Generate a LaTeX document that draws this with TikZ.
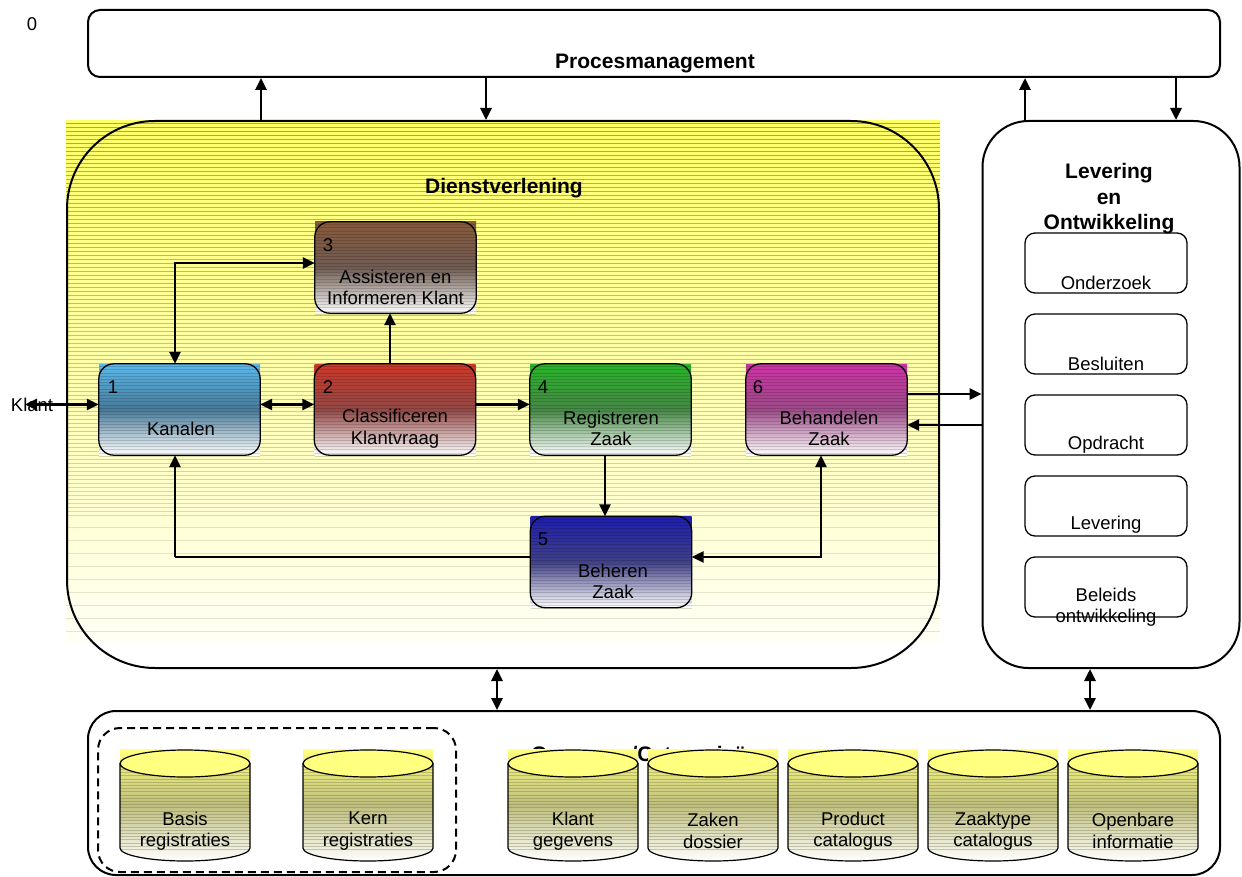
\documentclass[tikz,border=0pt]{standalone}
\usepackage{fontspec}
\setmainfont{Liberation Sans}
\usetikzlibrary{arrows.meta}

% colours
\definecolor{dvtop}{RGB}{255,255,102}
\definecolor{dvbot}{RGB}{255,255,246}
\definecolor{stripecol}{RGB}{110,110,70}
\definecolor{cyltop}{RGB}{255,255,128}
\definecolor{cylmid}{RGB}{190,190,125}
\definecolor{kanTop}{RGB}{90,185,235}   \definecolor{kanMid}{RGB}{72,122,152}
\definecolor{claTop}{RGB}{205,55,40}    \definecolor{claMid}{RGB}{145,72,70}
\definecolor{assTop}{RGB}{135,88,58}    \definecolor{assMid}{RGB}{110,92,82}
\definecolor{regTop}{RGB}{40,180,40}    \definecolor{regMid}{RGB}{70,135,70}
\definecolor{behTop}{RGB}{205,50,165}   \definecolor{behMid}{RGB}{155,75,135}
\definecolor{bhrTop}{RGB}{30,30,175}    \definecolor{bhrMid}{RGB}{65,65,135}

\tikzset{
  >={Triangle[length=12pt,width=11pt]},
  conn/.style={line width=2.7pt,->},
  conn2/.style={line width=2.7pt,<->},
  title/.style={font=\fontsize{21}{25.5}\selectfont\bfseries,align=center,inner sep=0pt},
  lbl/.style={font=\fontsize{18.5}{21.5}\selectfont,align=center,inner sep=0pt},
  pbox/.style={rectangle,minimum width=161pt,minimum height=91pt,inner sep=0pt},
  boxline/.style={draw=black,line width=1.3pt,rounded corners=15pt},
  subbox/.style={draw=black,line width=1.3pt,rounded corners=10pt,minimum width=162pt,minimum height=60pt,inner sep=0pt},
  frame/.style={draw=black,line width=2pt,inner sep=0pt},
  cylline/.style={draw=black,line width=1.2pt},
  boxstripe/.style={draw=black,opacity=0.15,line width=0.6pt},
  cylstripe/.style={draw=stripecol,opacity=0.35,line width=0.6pt},
}

% horizontal stripes: x1, y1, x2, count, step, style
\newcommand\hstripes[6]{%
  \foreach \k in {0,...,#4}{\draw[#6] (#1,{#2+\k*#5}) -- (#3,{#2+\k*#5});}}

% process step: name, cx, cy, top colour, middle colour
\newcommand\procbox[5]{%
  \node[pbox,top color=#4,bottom color=white,middle color=#5] (#1) at (#2,#3) {};
  \hstripes{#2-80.5}{#3-43}{#2+80.5}{28}{3.2}{boxstripe}
  \draw[boxline] (#1.north west) rectangle (#1.south east);}

% data store cylinder: name, cx, first line, second line
\newcommand\datastore[4]{%
  \shade[top color=cyltop,bottom color=white,middle color=cylmid]
    (#2-65,749) -- (#2+65,749) -- (#2+65,848)
    arc[start angle=0,end angle=180,x radius=65,y radius=13] -- cycle;
  \hstripes{#2-65}{766}{#2+65}{26}{3.2}{cylstripe}
  \draw[cylline] (#2-65,763.5) -- (#2-65,848)
    arc[start angle=180,end angle=0,x radius=65,y radius=13] -- (#2+65,763.5);
  \draw[cylline,fill=cyltop] (#2,763.5) ellipse[x radius=65,y radius=13.5];
  \node[lbl] (#1) at (#2,831) {#3\\#4};}

\begin{document}
\begin{tikzpicture}[x=1pt,y=-1pt]
\useasboundingbox (0,0) rectangle (1242,877);

% ---------- process management ----------
\node[lbl] (num0) at (32,24) {0};
\node[frame,rounded corners=12pt,minimum width=1132pt,minimum height=67pt] (pm) at (654,43.5) {};
\node[title] (pmtitle) at (655,64) {Procesmanagement};

% ---------- service delivery area ----------
\shade[top color=dvtop,bottom color=dvbot] (66,121) rectangle (940,640);
\foreach \k in {0,...,98}{%
  \pgfmathsetmacro\op{0.6-0.35*\k/98}
  \draw[stripecol,opacity=\op,line width=0.6pt] (66,{123+\k*4}) -- (940,{123+\k*4});}
\foreach \k in {0,...,8}{%
  \draw[stripecol,opacity=0.18,line width=0.6pt] (66,{527+\k*13}) -- (940,{527+\k*13});}
\node[frame,rounded corners=88pt,minimum width=872pt,minimum height=547pt] (dv) at (503,394.5) {};
\node[title] (dvtitle) at (504,188) {Dienstverlening};

\procbox{b3}{395.5}{267.5}{assTop}{assMid}
\procbox{b1}{179.5}{409.5}{kanTop}{kanMid}
\procbox{b2}{395}{409.5}{claTop}{claMid}
\procbox{b4}{610.5}{409.5}{regTop}{regMid}
\procbox{b6}{826.5}{409.5}{behTop}{behMid}
\procbox{b5}{611}{562}{bhrTop}{bhrMid}

\node[lbl] (n3) at (328,245) {3};
\node[lbl] (t3) at (395.5,287.5) {Assisteren en\\Informeren Klant};
\node[lbl] (n1) at (113,387) {1};
\node[lbl] (t1) at (181,429) {Kanalen};
\node[lbl] (n2) at (328,387) {2};
\node[lbl] (t2) at (395,428.5) {Classificeren\\Klantvraag};
\node[lbl] (n4) at (543,387) {4};
\node[lbl] (t4) at (611,428.5) {Registreren\\Zaak};
\node[lbl] (n6) at (758,387) {6};
\node[lbl] (t6) at (829,428.5) {Behandelen\\Zaak};
\node[lbl] (n5) at (543,539) {5};
\node[lbl] (t5) at (613,581.5) {Beheren\\Zaak};

% ---------- delivery and development ----------
\node[frame,rounded corners=46pt,minimum width=257pt,minimum height=547pt] (le) at (1111,394.5) {};
\node[title] (letitle) at (1109,199) {Levering\\en\\Ontwikkeling};
\node[subbox] (lo1) at (1106,263) {};
\node[subbox] (lo2) at (1106,344) {};
\node[subbox] (lo3) at (1106,425) {};
\node[subbox] (lo4) at (1106,506) {};
\node[subbox] (lo5) at (1106,587) {};
\node[lbl] (lt1) at (1106,283) {Onderzoek};
\node[lbl] (lt2) at (1106,364) {Besluiten};
\node[lbl] (lt3) at (1106,445) {Opdracht};
\node[lbl] (lt4) at (1106,525) {Levering};
\node[lbl] (lt5) at (1106,607) {Beleids\\ontwikkeling};

% ---------- data layer ----------
\node[frame,rounded corners=28pt,minimum width=1132pt,minimum height=164pt] (gg) at (654,793) {};
\node[title] (ggtitle) at (645,756) {Gegevens/Categorieën};
\node[draw=black,line width=2pt,dashed,dash pattern=on 8pt off 5pt,rounded corners=22pt,
      minimum width=358pt,minimum height=144pt,inner sep=0pt] (reg) at (277,800) {};
\datastore{d1}{185}{Basis}{registraties}
\datastore{d2}{368}{Kern}{registraties}
\datastore{d3}{573}{Klant}{gegevens}
\datastore{d4}{713}{Zaken}{dossier}
\datastore{d5}{853}{Product}{catalogus}
\datastore{d6}{993}{Zaaktype}{catalogus}
\datastore{d7}{1133}{Openbare}{informatie}

% ---------- connectors ----------
\coordinate (xa) at (261,0);
\coordinate (xb) at (486,0);
\coordinate (xc) at (1025,0);
\coordinate (xd) at (1176,0);
\coordinate (xe) at (497,0);
\coordinate (xf) at (1090,0);
\coordinate (x23) at (390,0);
\coordinate (x45) at (605,0);
\coordinate (ya) at (0,394);
\coordinate (yb) at (0,425);
\coordinate (kl) at (25,404.5);
\coordinate (j13) at (175,263);
\coordinate (j65) at (821,557);
\coordinate (j51) at (175,557);

\draw[conn] (dv.north -| xa) -- (pm.south -| xa);
\draw[conn] (pm.south -| xb) -- (dv.north -| xb);
\draw[conn] (le.north -| xc) -- (pm.south -| xc);
\draw[conn] (pm.south -| xd) -- (le.north -| xd);

\node[lbl] (klant) at (32,405) {Klant};
\draw[conn2] (kl) -- (b1.west |- kl);
\draw[conn2] (b1.east |- kl) -- (b2.west |- kl);
\draw[conn] (b2.east |- kl) -- (b4.west |- kl);
\draw[conn] (b2.north -| x23) -- (b3.south -| x23);
\draw[conn2] (b1.north -| j13) |- (b3.west |- j13);
\draw[conn] (b4.south -| x45) -- (b5.north -| x45);
\draw[conn2] (b6.south -| j65) |- (b5.east |- j65);
\draw[line width=1.1pt] (b5.west |- j51) -- (j51);
\draw[conn] (j51) -- (b1.south -| j51);
\draw[conn] (b6.east |- ya) -- (le.west |- ya);
\draw[conn] (le.west |- yb) -- (b6.east |- yb);

\draw[conn2] (dv.south -| xe) -- (gg.north -| xe);
\draw[conn2] (le.south -| xf) -- (gg.north -| xf);
\end{tikzpicture}
\end{document}
